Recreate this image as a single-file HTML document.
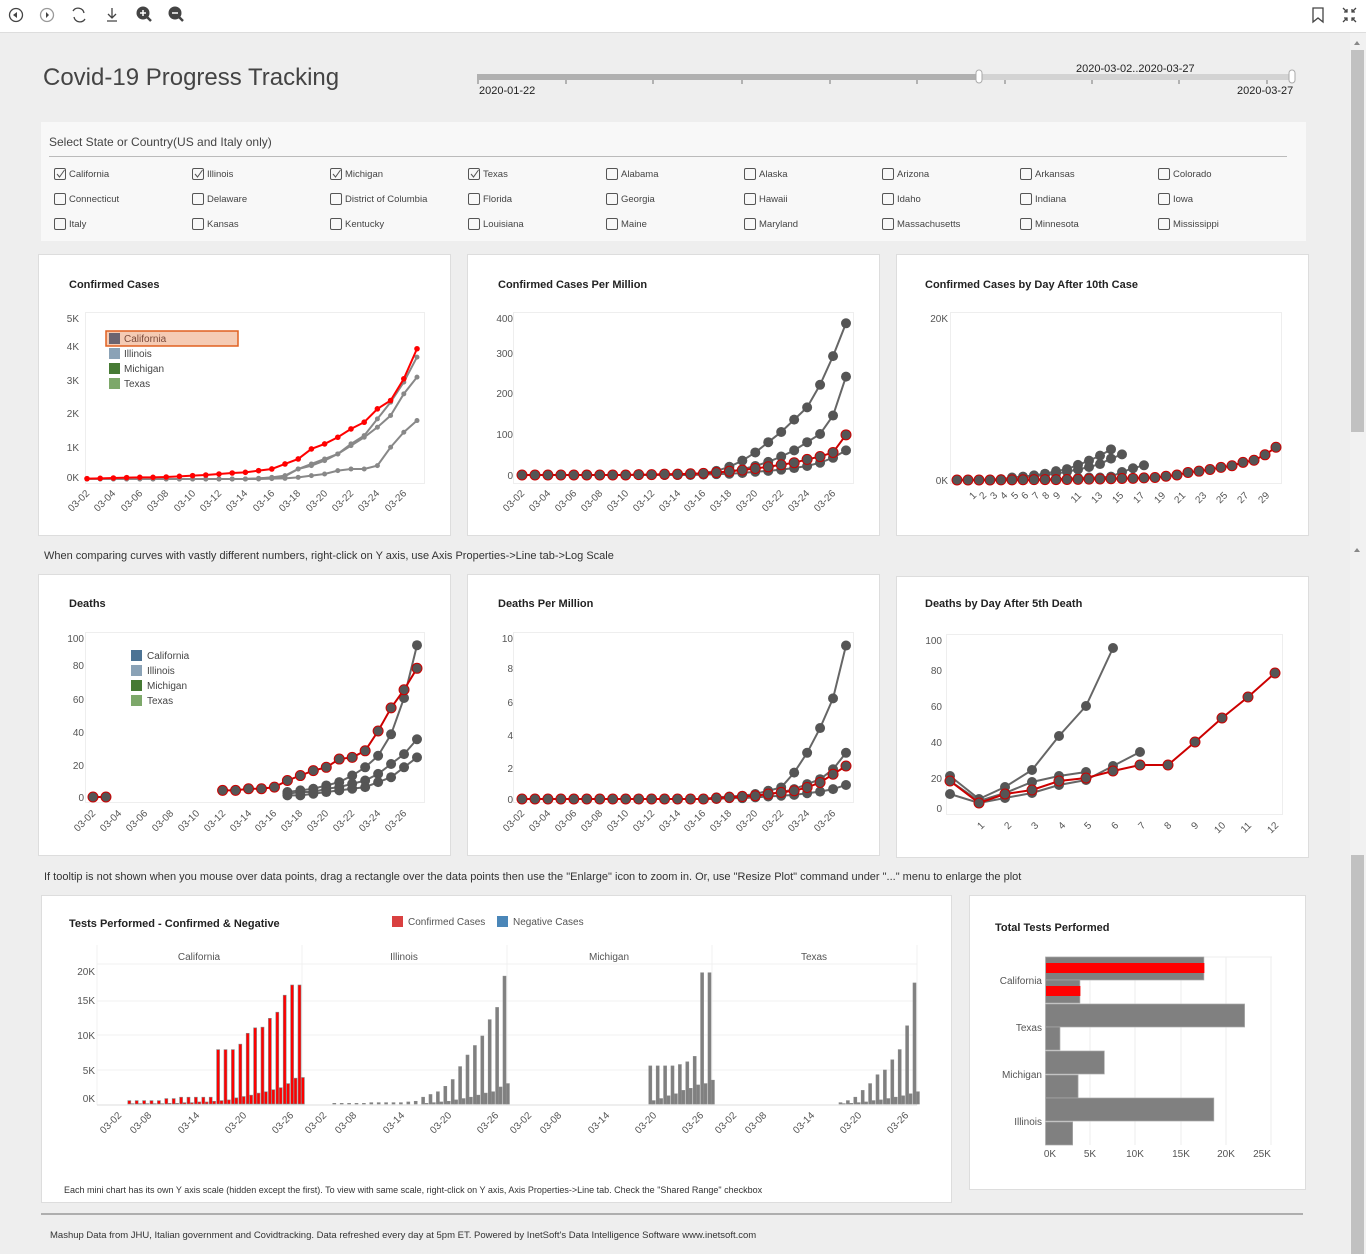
<!DOCTYPE html>
<html><head><meta charset="utf-8"><style>
body{margin:0;width:1366px;height:1254px;overflow:hidden;background:#eeeeee;font-family:"Liberation Sans",Arial,sans-serif;}
svg{position:absolute;left:0;top:0;}
text{font-family:"Liberation Sans",Arial,sans-serif;}
.t{font-size:11px;font-weight:bold;fill:#222}
.a{font-size:10px;fill:#555}
.cb{font-size:9.5px;fill:#444}
</style></head><body>
<svg id="s" width="1366" height="1254" viewBox="0 0 1366 1254">
<!-- toolbar -->
<rect x="0" y="0" width="1366" height="32" fill="#fff"/>
<line x1="0" y1="32.5" x2="1366" y2="32.5" stroke="#ddd"/>
<g fill="none" stroke="#444" stroke-width="1.3">
<circle cx="16" cy="15" r="6.5"/><circle cx="47" cy="15" r="6.5" stroke="#999"/>
<path d="M73 11a6 6 0 0 1 11 2M85 19a6 6 0 0 1-11-2"/>
<path d="M112 8v10M108 14l4 4 4-4M107 21h10"/>
<path d="M147 17l4 4" stroke-width="2.5"/>
<path d="M179 17l4 4" stroke-width="2.5"/>
<path d="M1313 8h10v14l-5-4-5 4z"/>
<path d="M1343 8l4 4M1347 9v3h-3M1356 8l-4 4M1352 9v3h3M1343 22l4-4M1347 21v-3h-3M1356 22l-4-4M1352 21v-3h3"/>
</g>
<circle cx="143" cy="13" r="6.5" fill="#444"/><circle cx="175" cy="13" r="6.5" fill="#444"/>
<path d="M13 15l4-3v6z M46 12l3 3-3 3z" fill="#444"/>
<path d="M140 13h6M143 10v6M172 13h6" stroke="#fff" stroke-width="1.5"/>
<!-- scrollbar -->
<rect x="1350" y="33" width="16" height="1221" fill="#f1f1f1"/>
<rect x="1351" y="50" width="13" height="382" fill="#c1c1c1"/>
<rect x="1351" y="855" width="13" height="399" fill="#c1c1c1"/>
<path d="M1354 45l3-4 3 4z M1354 552l3-4 3 4z" fill="#888"/>
<!-- title & slider -->
<text x="43" y="85" font-size="24" fill="#444">Covid-19 Progress Tracking</text>
<rect x="477" y="74" width="502" height="6" fill="#b0b0b0"/>
<rect x="979" y="74" width="314" height="6" fill="#d3d3d3"/>
<g stroke="#777"><path d="M478 80v4M566 80v4M653 80v4M742 80v4M830 80v4M917 80v4M1005 80v4M1092 80v4M1179 80v4M1267 80v4"/></g>
<rect x="976" y="70" width="6" height="13" rx="3" fill="#fff" stroke="#aaa"/>
<rect x="1289" y="70" width="6" height="13" rx="3" fill="#fff" stroke="#aaa"/>
<text x="479" y="94" font-size="11" fill="#222">2020-01-22</text>
<text x="1076" y="72" font-size="11" fill="#222">2020-03-02..2020-03-27</text>
<text x="1237" y="94" font-size="11" fill="#222">2020-03-27</text>
<!-- selection -->
<rect x="41" y="122" width="1265" height="119" fill="#f8f8f8"/>
<text x="49" y="146" font-size="12" fill="#444">Select State or Country(US and Italy only)</text>
<line x1="49" y1="156.5" x2="1287" y2="156.5" stroke="#bbb"/>
<g id="cbs" fill="none" stroke="#555"></g>
<g class="cb">
<text x="69" y="177">California</text><text x="207" y="177">Illinois</text><text x="345" y="177">Michigan</text><text x="483" y="177">Texas</text><text x="621" y="177">Alabama</text><text x="759" y="177">Alaska</text><text x="897" y="177">Arizona</text><text x="1035" y="177">Arkansas</text><text x="1173" y="177">Colorado</text>
<text x="69" y="202">Connecticut</text><text x="207" y="202">Delaware</text><text x="345" y="202">District of Columbia</text><text x="483" y="202">Florida</text><text x="621" y="202">Georgia</text><text x="759" y="202">Hawaii</text><text x="897" y="202">Idaho</text><text x="1035" y="202">Indiana</text><text x="1173" y="202">Iowa</text>
<text x="69" y="227">Italy</text><text x="207" y="227">Kansas</text><text x="345" y="227">Kentucky</text><text x="483" y="227">Louisiana</text><text x="621" y="227">Maine</text><text x="759" y="227">Maryland</text><text x="897" y="227">Massachusetts</text><text x="1035" y="227">Minnesota</text><text x="1173" y="227">Mississippi</text>
</g>
<!-- panels -->
<g fill="#fff" stroke="#ddd">
<rect x="38.5" y="254.5" width="412" height="281"/><rect x="467.5" y="254.5" width="412" height="281"/><rect x="896.5" y="254.5" width="412" height="281"/>
<rect x="38.5" y="574.5" width="412" height="281"/><rect x="467.5" y="574.5" width="412" height="281"/><rect x="896.5" y="576.5" width="412" height="281"/>
<rect x="41.5" y="895.5" width="910" height="307"/><rect x="969.5" y="895.5" width="336" height="294"/>
</g>
<g fill="none" stroke="#eee">
<rect x="85.5" y="312.5" width="339" height="171"/><rect x="513.5" y="312.5" width="340" height="171"/><rect x="950.5" y="312.5" width="331" height="171"/>
<rect x="85.5" y="632.5" width="339" height="170"/><rect x="513.5" y="632.5" width="340" height="170"/><rect x="946.5" y="634.5" width="336" height="180"/>
</g>
<text x="44" y="559" font-size="11" fill="#333">When comparing curves with vastly different numbers, right-click on Y axis, use Axis Properties-&gt;Line tab-&gt;Log Scale</text>
<text x="44" y="880" font-size="11" fill="#333">If tooltip is not shown when you mouse over data points, drag a rectangle over the data points then use the "Enlarge" icon to zoom in. Or,  use "Resize Plot" command under "..." menu to enlarge the plot</text>
<line x1="41" y1="1214" x2="1303" y2="1214" stroke="#999" stroke-width="1.5"/>
<text x="50" y="1238" font-size="9.5" fill="#333">Mashup Data from JHU, Italian government and Covidtracking. Data refreshed every day at 5pm ET. Powered by InetSoft's Data Intelligence Software www.inetsoft.com</text>

<!-- titles -->
<text class="t" x="69" y="288">Confirmed Cases</text>
<text class="t" x="498" y="288">Confirmed Cases Per Million</text>
<text class="t" x="925" y="288">Confirmed Cases by Day After 10th Case</text>
<text class="t" x="69" y="607">Deaths</text>
<text class="t" x="498" y="607">Deaths Per Million</text>
<text class="t" x="925" y="607">Deaths by Day After 5th Death</text>
<text class="t" x="69" y="927">Tests Performed - Confirmed &amp; Negative</text>
<text class="t" x="995" y="931">Total Tests Performed</text>

<!-- y axis labels -->
<g class="a" text-anchor="end">
<text x="79" y="322">5K</text><text x="79" y="350">4K</text><text x="79" y="384">3K</text><text x="79" y="417">2K</text><text x="79" y="451">1K</text><text x="79" y="481">0K</text>
<text x="513" y="322">400</text><text x="513" y="357">300</text><text x="513" y="397">200</text><text x="513" y="438">100</text><text x="513" y="479">0</text>
<text x="948" y="322">20K</text><text x="948" y="484">0K</text>
<text x="84" y="642">100</text><text x="84" y="669">80</text><text x="84" y="703">60</text><text x="84" y="736">40</text><text x="84" y="769">20</text><text x="84" y="801">0</text>
<text x="513" y="642">10</text><text x="513" y="672">8</text><text x="513" y="706">6</text><text x="513" y="739">4</text><text x="513" y="772">2</text><text x="513" y="803">0</text>
<text x="942" y="644">100</text><text x="942" y="674">80</text><text x="942" y="710">60</text><text x="942" y="746">40</text><text x="942" y="782">20</text><text x="942" y="812">0</text>
<text x="95" y="975">20K</text><text x="95" y="1004">15K</text><text x="95" y="1039">10K</text><text x="95" y="1074">5K</text><text x="95" y="1102">0K</text>
</g>
<!-- x labels -->
<g class="a" text-anchor="end">
<text transform="translate(90,494) rotate(-45)">03-02</text><text transform="translate(116,494) rotate(-45)">03-04</text><text transform="translate(143,494) rotate(-45)">03-06</text><text transform="translate(169,494) rotate(-45)">03-08</text><text transform="translate(196,494) rotate(-45)">03-10</text><text transform="translate(222,494) rotate(-45)">03-12</text><text transform="translate(248,494) rotate(-45)">03-14</text><text transform="translate(275,494) rotate(-45)">03-16</text><text transform="translate(301,494) rotate(-45)">03-18</text><text transform="translate(328,494) rotate(-45)">03-20</text><text transform="translate(354,494) rotate(-45)">03-22</text><text transform="translate(380,494) rotate(-45)">03-24</text><text transform="translate(407,494) rotate(-45)">03-26</text>
<text transform="translate(525,494) rotate(-45)">03-02</text><text transform="translate(551,494) rotate(-45)">03-04</text><text transform="translate(577,494) rotate(-45)">03-06</text><text transform="translate(603,494) rotate(-45)">03-08</text><text transform="translate(629,494) rotate(-45)">03-10</text><text transform="translate(655,494) rotate(-45)">03-12</text><text transform="translate(681,494) rotate(-45)">03-14</text><text transform="translate(706,494) rotate(-45)">03-16</text><text transform="translate(732,494) rotate(-45)">03-18</text><text transform="translate(758,494) rotate(-45)">03-20</text><text transform="translate(784,494) rotate(-45)">03-22</text><text transform="translate(810,494) rotate(-45)">03-24</text><text transform="translate(836,494) rotate(-45)">03-26</text>
<text transform="translate(96,814) rotate(-45)">03-02</text><text transform="translate(122,814) rotate(-45)">03-04</text><text transform="translate(148,814) rotate(-45)">03-06</text><text transform="translate(174,814) rotate(-45)">03-08</text><text transform="translate(200,814) rotate(-45)">03-10</text><text transform="translate(226,814) rotate(-45)">03-12</text><text transform="translate(252,814) rotate(-45)">03-14</text><text transform="translate(277,814) rotate(-45)">03-16</text><text transform="translate(303,814) rotate(-45)">03-18</text><text transform="translate(329,814) rotate(-45)">03-20</text><text transform="translate(355,814) rotate(-45)">03-22</text><text transform="translate(381,814) rotate(-45)">03-24</text><text transform="translate(407,814) rotate(-45)">03-26</text>
<text transform="translate(525,814) rotate(-45)">03-02</text><text transform="translate(551,814) rotate(-45)">03-04</text><text transform="translate(577,814) rotate(-45)">03-06</text><text transform="translate(603,814) rotate(-45)">03-08</text><text transform="translate(629,814) rotate(-45)">03-10</text><text transform="translate(655,814) rotate(-45)">03-12</text><text transform="translate(681,814) rotate(-45)">03-14</text><text transform="translate(706,814) rotate(-45)">03-16</text><text transform="translate(732,814) rotate(-45)">03-18</text><text transform="translate(758,814) rotate(-45)">03-20</text><text transform="translate(784,814) rotate(-45)">03-22</text><text transform="translate(810,814) rotate(-45)">03-24</text><text transform="translate(836,814) rotate(-45)">03-26</text>
<text transform="translate(977,496) rotate(-45)">1</text><text transform="translate(987,496) rotate(-45)">2</text><text transform="translate(998,496) rotate(-45)">3</text><text transform="translate(1008,496) rotate(-45)">4</text><text transform="translate(1019,496) rotate(-45)">5</text><text transform="translate(1029,496) rotate(-45)">6</text><text transform="translate(1040,496) rotate(-45)">7</text><text transform="translate(1050,496) rotate(-45)">8</text><text transform="translate(1061,496) rotate(-45)">9</text><text transform="translate(1082,496) rotate(-45)">11</text><text transform="translate(1103,496) rotate(-45)">13</text><text transform="translate(1124,496) rotate(-45)">15</text><text transform="translate(1145,496) rotate(-45)">17</text><text transform="translate(1166,496) rotate(-45)">19</text><text transform="translate(1186,496) rotate(-45)">21</text><text transform="translate(1207,496) rotate(-45)">23</text><text transform="translate(1228,496) rotate(-45)">25</text><text transform="translate(1249,496) rotate(-45)">27</text><text transform="translate(1270,496) rotate(-45)">29</text>
<text transform="translate(985,826) rotate(-45)">1</text><text transform="translate(1012,826) rotate(-45)">2</text><text transform="translate(1039,826) rotate(-45)">3</text><text transform="translate(1066,826) rotate(-45)">4</text><text transform="translate(1092,826) rotate(-45)">5</text><text transform="translate(1119,826) rotate(-45)">6</text><text transform="translate(1146,826) rotate(-45)">7</text><text transform="translate(1172,826) rotate(-45)">8</text><text transform="translate(1199,826) rotate(-45)">9</text><text transform="translate(1226,826) rotate(-45)">10</text><text transform="translate(1252,826) rotate(-45)">11</text><text transform="translate(1279,826) rotate(-45)">12</text>
<text transform="translate(122,1116) rotate(-45)">03-02</text><text transform="translate(152,1116) rotate(-45)">03-08</text><text transform="translate(200,1116) rotate(-45)">03-14</text><text transform="translate(247,1116) rotate(-45)">03-20</text><text transform="translate(294,1116) rotate(-45)">03-26</text>
<text transform="translate(327,1116) rotate(-45)">03-02</text><text transform="translate(357,1116) rotate(-45)">03-08</text><text transform="translate(405,1116) rotate(-45)">03-14</text><text transform="translate(452,1116) rotate(-45)">03-20</text><text transform="translate(499,1116) rotate(-45)">03-26</text>
<text transform="translate(532,1116) rotate(-45)">03-02</text><text transform="translate(562,1116) rotate(-45)">03-08</text><text transform="translate(610,1116) rotate(-45)">03-14</text><text transform="translate(657,1116) rotate(-45)">03-20</text><text transform="translate(704,1116) rotate(-45)">03-26</text>
<text transform="translate(737,1116) rotate(-45)">03-02</text><text transform="translate(767,1116) rotate(-45)">03-08</text><text transform="translate(815,1116) rotate(-45)">03-14</text><text transform="translate(862,1116) rotate(-45)">03-20</text><text transform="translate(909,1116) rotate(-45)">03-26</text>
</g>
<!-- legends -->
<rect x="106" y="331" width="132" height="15" fill="#f5cbb4" stroke="#e06020" stroke-width="1.5"/>
<rect x="109" y="333" width="11" height="11" fill="#6b6470"/><rect x="109" y="348" width="11" height="11" fill="#8aa2b6"/><rect x="109" y="363" width="11" height="11" fill="#467a34"/><rect x="109" y="378" width="11" height="11" fill="#7da86a"/>
<g font-size="10" fill="#444"><text x="124" y="342" fill="#7a4a3a">California</text><text x="124" y="357">Illinois</text><text x="124" y="372">Michigan</text><text x="124" y="387">Texas</text></g>
<rect x="131" y="650" width="11" height="11" fill="#4c7394"/><rect x="131" y="665" width="11" height="11" fill="#8aa2b6"/><rect x="131" y="680" width="11" height="11" fill="#467a34"/><rect x="131" y="695" width="11" height="11" fill="#7da86a"/>
<g font-size="10" fill="#444"><text x="147" y="659">California</text><text x="147" y="674">Illinois</text><text x="147" y="689">Michigan</text><text x="147" y="704">Texas</text></g>
<rect x="392" y="916" width="11" height="11" fill="#d94040"/><rect x="497" y="916" width="11" height="11" fill="#4a86b8"/>
<g font-size="10" fill="#555"><text x="408" y="925">Confirmed Cases</text><text x="513" y="925">Negative Cases</text></g>
<!-- tests facets -->
<g fill="none" stroke="#f0f0f0"><path d="M97 964h820M97 1001h820M97 1035h820M97 1070h820M302 945v160M507 945v160M712 945v160M917 945v160M97 945v160"/></g>
<g font-size="10" fill="#555" text-anchor="middle"><text x="199" y="960">California</text><text x="404" y="960">Illinois</text><text x="609" y="960">Michigan</text><text x="814" y="960">Texas</text></g>
<line x1="97" y1="1105" x2="917" y2="1105" stroke="#ddd"/>
<text x="64" y="1193" font-size="9" fill="#333">Each mini chart has its own Y axis scale (hidden except the first). To view with same scale, right-click on Y axis,  Axis Properties-&gt;Line tab. Check the "Shared Range" checkbox</text>
<!-- total tests -->
<g stroke="#eee"><path d="M1090 957v188M1135 957v188M1181 957v188M1226 957v188M1271 957v188M1045 957h227"/></g>
<g id="tt"></g>
<g class="a" text-anchor="middle"><text x="1050" y="1157">0K</text><text x="1090" y="1157">5K</text><text x="1135" y="1157">10K</text><text x="1181" y="1157">15K</text><text x="1226" y="1157">20K</text><text x="1262" y="1157">25K</text></g>
<g class="a" text-anchor="end"><text x="1042" y="984">California</text><text x="1042" y="1031">Texas</text><text x="1042" y="1078">Michigan</text><text x="1042" y="1125">Illinois</text></g>
<g id="dyn"></g>
</svg>
<script>
var NS="http://www.w3.org/2000/svg",D=document.getElementById("dyn");
function el(t,a,p){var e=document.createElementNS(NS,t);for(var k in a)e.setAttribute(k,a[k]);(p||D).appendChild(e);return e;}
var cbs=document.getElementById("cbs");
for(var r=0;r<3;r++)for(var c=0;c<9;c++){var x=54+c*138,y=168+r*25;el("rect",{x:x+.5,y:y+.5,width:11,height:11,rx:1.5},cbs);if(r==0&&c<4)el("path",{d:"M"+(x+3)+" "+(y+6)+"l2.5 3 5-7"},cbs);}
function series(pts,lc,lw,r,df,ds){el("polyline",{points:pts.map(p=>p.join(",")).join(" "),fill:"none",stroke:lc,"stroke-width":lw});pts.forEach(p=>el("circle",{cx:p[0],cy:p[1],r:r,fill:df,stroke:ds||"none","stroke-width":1}));}
function mk(arr,x0,dx,y0,sy,start){return arr.map((v,i)=>[x0+(i+(start||0))*dx,y0-v*sy]);}
var z=n=>Array(n).fill(0);
// chart1
var red=[.01,.02,.03,.04,.05,.05,.06,.08,.1,.12,.15,.18,.2,.25,.3,.45,.6,.9,1.05,1.25,1.5,1.7,2.1,2.35,3.0,3.9];
var g1=[.02,.05,.1,.3,.4,.55,.75,1.05,1.3,1.8,2.3,2.9,3.65],g2=[.02,.04,.08,.3,.45,.6,.75,1.0,1.25,1.55,1.9,2.55,3.05],g3=[0,.01,.02,.05,.1,.15,.25,.3,.3,.4,.95,1.4,1.75];
[g3,g2,g1].forEach(g=>series(mk(z(13).concat(g),87,13.2,479,33.4),"#888",2,2.5,"#888"));
series(mk(red,87,13.2,479,33.4),"#f00",2,2.8,"#f00");
// chart2
var pA=z(13).concat([2,5,10,20,35,55,80,105,135,165,220,290,370]),pB=z(13).concat([1,2,4,8,14,22,32,45,60,80,100,145,240]),pR=z(9).concat([1,1,2,2,3,4,6,9,12,16,20,25,30,38,45,55,98]),pC=z(14).concat([1,2,3,5,8,10,13,17,22,30,42,60]);
[pC,pB,pA].forEach(g=>series(mk(g,522,12.96,475,.41),"#666",2,5,"#555"));
series(mk(pR,522,12.96,475,.41),"#c00",2,5,"#555","#c00");
// chart3
[z(2).concat(g1),z(3).concat(g2),z(5).concat(g3)].forEach(g=>series(mk(g,957,11,480,8.4),"#666",2,5,"#555"));
series(mk(z(4).concat(red),957,11,480,8.4),"#c00",2,5,"#555","#c00");
// chart4
series(mk([3,4,5,7,9,13,18,25,38,60,92],93,12.96,797,1.65,15),"#666",2,5,"#555");
series(mk([2,3,3,5,6,8,10,14,20,26,35],93,12.96,797,1.65,15),"#666",2,5,"#555");
series(mk([1,1,2,3,4,5,6,9,12,18,24],93,12.96,797,1.65,15),"#666",2,5,"#555");
series(mk([0,0],93,12.96,797,1.65),"#c00",2,5,"#555","#c00");
series(mk([4,4,5,5,6,10,13,16,18,23,24,28,40,54,65,78],93,12.96,797,1.65,10),"#c00",2,5,"#555","#c00");
// chart5
var dA=z(15).concat([.1,.15,.2,.3,.5,.7,1.6,2.8,4.3,6.1,9.3]),dB=z(15).concat([.05,.1,.15,.2,.3,.4,.6,.9,1.2,1.8,2.8]),dR=z(15).concat([.05,.1,.15,.2,.3,.4,.5,.7,1,1.5,2.0]),dC=z(15).concat([0,.05,.05,.1,.15,.2,.25,.35,.45,.6,.85]);
[dC,dB,dA].forEach(g=>series(mk(g,522,12.96,799,16.5),"#666",2,5,"#555"));
series(mk(dR,522,12.96,799,16.5),"#c00",2,5,"#555","#c00");
// chart6
series([[950,776],[979,799],[1005,787],[1032,770],[1059,736],[1086,706],[1113,648]],"#666",2,5,"#555");
series([[950,794],[979,803],[1005,798],[1032,793],[1059,785],[1086,780],[1113,766],[1140,752]],"#666",2,5,"#555");
series([[950,781],[979,801],[1005,793],[1032,782],[1059,776],[1086,772]],"#666",2,5,"#555");
series([[950,781],[979,803],[1005,794],[1032,790],[1059,781],[1086,778],[1113,771],[1140,765],[1168,765],[1195,742],[1222,718],[1248,697],[1275,673]],"#c00",2,5,"#555","#c00");
// tests bars
function bars(k,T,S,fill){var x0=97+205*k;for(var i=0;i<26;i++){var x=x0+16+i*7.4;if(T[i]>0)el("rect",{x:x,y:1104-T[i]*6.8,width:3,height:T[i]*6.8,fill:fill,stroke:"#888","stroke-width":.6});if(S[i]>0)el("rect",{x:x+3.4,y:1104-S[i]*6.8,width:3,height:S[i]*6.8,fill:fill,stroke:"#888","stroke-width":.6});}}
bars(0,[0,0,.5,.5,.5,.5,.5,.8,.8,1,1,1,1,1,8,8,8,8.8,10.4,11.2,11.3,12.6,13.5,16,17.5,17.5],[0,0,.05,.05,.05,.05,.05,.1,.1,.2,.2,.3,.3,.4,.5,.6,.9,1.1,1.3,1.6,1.8,2.1,2.4,3,3.8,3.9],"#f00");
bars(1,[0,0,.1,.1,.1,.1,.1,.2,.2,.2,.2,.2,.3,.4,1,1.4,1.8,2.6,3.6,5.5,7.2,8.6,10,12.4,14.2,18.8],z(14).concat([.1,.2,.3,.4,.6,.8,1,1.3,1.6,1.8,2.5,3.0]),"#808080");
bars(2,z(17).concat([5.6,5.6,5.6,5.6,5.8,6.2,7,19.3,19.3]),z(17).concat([.5,.8,1.2,1.5,2,2.3,2.8,3,3.5]),"#808080");
bars(3,z(15).concat([.2,.5,1,2,3,4.3,5,6.5,8,11.5,17.8]),z(15).concat([.05,.1,.2,.3,.5,.6,.8,1,1.2,1.5,1.8]),"#808080");
// total tests
var tt=document.getElementById("tt");
[[957,17.5],[980,3.8],[1004,22],[1027,1.6],[1051,6.5],[1075,3.6],[1098,18.6],[1122,3]].forEach(b=>el("rect",{x:1045.5,y:b[0],width:b[1]*9.05,height:23,fill:"#808080",stroke:"#aaa","stroke-width":.7},tt));
el("rect",{x:1046,y:963,width:17.5*9.05,height:10,fill:"#f00"},tt);
el("rect",{x:1046,y:986,width:3.8*9.05,height:10,fill:"#f00"},tt);
</script>
</body></html>
